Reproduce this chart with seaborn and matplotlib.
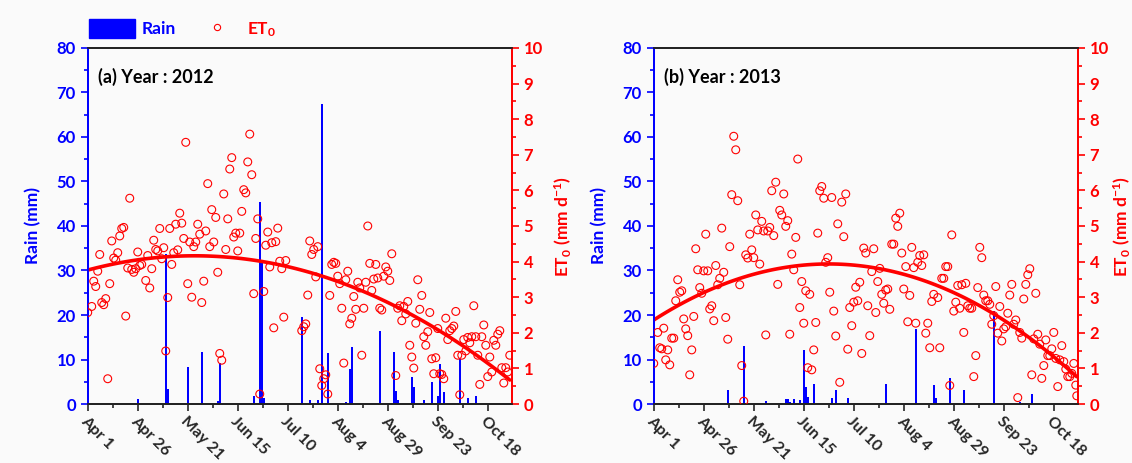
import numpy as np
import pandas as pd
import seaborn as sns
import matplotlib.pyplot as plt
from matplotlib.ticker import MultipleLocator
from matplotlib.patches import Patch
from matplotlib.lines import Line2D

sns.set_style("ticks")
plt.rcParams['font.family'] = ['Lato', 'DejaVu Sans']
plt.rcParams['font.weight'] = 'bold'
plt.rcParams['mathtext.fontset'] = 'custom'
plt.rcParams['mathtext.rm'] = 'Lato:bold'
plt.rcParams['mathtext.it'] = 'Lato:bold'
plt.rcParams['mathtext.bf'] = 'Lato:bold'

# x axis: days after Apr 1
tick_days = [0, 25, 50, 75, 100, 125, 150, 175, 200]
tick_labels = ["Apr 1", "Apr 26", "May 21", "Jun 15", "Jul 10",
               "Aug 4", "Aug 29", "Sep 23", "Oct 18"]

# ---- 2012 ----
et_day_2012 = [0, 2, 3, 4, 5, 6, 7, 8, 9, 10, 11, 12, 13, 14, 15, 16, 17, 18, 19, 20,
               21, 22, 23, 24, 25, 26, 27, 29, 30, 31, 32, 33, 34, 35, 36, 37, 38, 39, 40,
               41, 42, 43, 44, 45, 46, 47, 48, 49, 50, 51, 52, 53, 54, 55, 56, 57, 58, 59,
               60, 61, 62, 63, 64, 65, 66, 67, 68, 69, 70, 71, 72, 73, 74, 75, 76, 77, 78,
               79, 80, 81, 82, 83, 84, 85, 86, 88, 89, 90, 91, 92, 93, 94, 95, 96, 97, 98,
               99, 107, 108, 109, 110, 111, 112, 113, 114, 115, 116, 117, 118, 119, 120,
               121, 122, 123, 124, 125, 126, 127, 128, 129, 130, 131, 132, 133, 134, 135,
               136, 137, 138, 139, 140, 141, 142, 143, 144, 145, 146, 147, 148, 149, 150,
               151, 152, 154, 155, 156, 157, 158, 159, 160, 161, 162, 163, 164, 165, 166,
               167, 168, 169, 170, 171, 172, 173, 174, 175, 176, 177, 178, 179, 180, 181,
               182, 183, 184, 185, 186, 187, 188, 189, 190, 191, 192, 193, 194, 195, 196,
               197, 198, 199, 200, 201, 202, 203, 204, 205, 206, 207, 208, 209, 210, 211]
et0_2012 = [2.57, 2.74, 3.45, 3.30, 3.73, 4.20, 2.85, 2.79, 2.96, 0.71, 3.38, 4.58, 4.10,
            4.04, 4.25, 4.72, 4.93, 4.96, 2.47, 3.82, 5.78, 3.78, 3.70, 3.80, 4.27, 3.89,
            3.92, 3.47, 4.17, 3.26, 3.80, 4.60, 4.34, 4.30, 4.93, 4.08, 4.39, 1.49, 2.99,
            4.93, 3.92, 4.25, 5.05, 4.33, 5.36, 5.08, 4.65, 7.35, 3.38, 4.55, 3.00, 4.42,
            4.55, 5.05, 4.77, 2.85, 3.45, 4.86, 6.19, 4.42, 5.46, 4.55, 5.24, 3.70, 1.42,
            1.23, 5.90, 4.34, 5.20, 6.60, 6.92, 4.69, 4.80, 4.30, 4.80, 5.41, 6.02, 5.93,
            6.80, 7.58, 6.44, 3.10, 4.65, 5.20, 0.28, 3.16, 4.46, 4.83, 3.85, 4.53, 2.14,
            4.56, 4.94, 4.01, 3.80, 2.44, 4.03, 2.06, 2.17, 2.25, 3.06, 4.58, 4.20, 4.34,
            3.57, 4.42, 0.99, 0.52, 0.71, 0.82, 0.28, 3.05, 3.92, 3.98, 3.95, 3.59, 3.38,
            2.69, 1.15, 3.49, 3.73, 2.25, 2.41, 3.02, 2.66, 3.42, 3.26, 1.37, 2.69, 3.42,
            5.00, 3.95, 3.19, 3.51, 3.92, 3.54, 2.69, 2.64, 3.59, 3.85, 3.73, 3.47, 4.22,
            0.80, 2.69, 2.76, 2.34, 2.74, 2.53, 2.88, 1.65, 1.32, 1.01, 2.27, 3.49, 2.66,
            3.05, 1.89, 1.65, 2.03, 2.57, 1.27, 0.85, 1.30, 2.12, 0.85, 0.83, 0.71, 2.41,
            1.81, 2.06, 2.12, 2.19, 2.60, 1.37, 0.26, 1.37, 1.81, 1.49, 1.87, 1.72, 1.89,
            2.76, 1.89, 1.37, 0.55, 1.89, 2.22, 1.65, 0.77, 1.32, 0.90, 1.79, 1.65, 1.96,
            2.06, 1.02, 0.59, 1.02, 0.90, 1.37]
rain_day_2012 = [25, 39, 40, 50, 57, 65, 66, 83, 86, 87, 88, 107, 111, 115, 117, 120,
                 129, 131, 132, 146, 153, 154, 155, 162, 163, 168, 172, 175, 176, 178,
                 186, 190, 194]
rain_2012 = [1.1, 33.8, 3.4, 8.3, 11.7, 0.7, 9.2, 1.7, 45.5, 32.0, 1.4, 19.6, 0.9, 0.9,
             67.5, 11.5, 0.5, 7.9, 12.8, 16.5, 11.7, 3.0, 0.9, 6.0, 3.9, 0.9, 4.9, 1.7,
             8.9, 2.6, 10.2, 1.4, 1.7]

# ---- 2013 ----
et_day_2013 = [0, 2, 3, 4, 5, 6, 7, 8, 9, 10, 11, 12, 13, 14, 15, 16, 17, 18, 19, 20,
               21, 22, 23, 24, 25, 26, 27, 28, 29, 30, 31, 32, 33, 34, 35, 36, 37, 38, 39,
               40, 41, 42, 43, 44, 45, 46, 47, 48, 49, 50, 51, 52, 53, 54, 55, 56, 57, 58,
               59, 60, 61, 62, 63, 64, 65, 66, 67, 68, 69, 70, 71, 72, 73, 74, 75, 76, 77,
               78, 79, 80, 81, 82, 83, 84, 85, 86, 87, 88, 89, 90, 91, 92, 93, 94, 95, 96,
               97, 98, 99, 100, 101, 102, 103, 104, 105, 106, 107, 108, 109, 110, 111, 112,
               113, 114, 115, 116, 117, 118, 119, 120, 121, 122, 123, 124, 125, 126, 127,
               128, 129, 130, 131, 132, 133, 134, 135, 136, 137, 138, 139, 140, 142, 143,
               144, 145, 146, 147, 148, 149, 150, 151, 152, 153, 154, 155, 156, 157, 158,
               159, 160, 161, 162, 163, 164, 165, 166, 167, 168, 169, 170, 171, 172, 173,
               174, 175, 176, 177, 178, 179, 180, 181, 182, 183, 184, 185, 186, 187, 188,
               189, 190, 191, 192, 193, 194, 195, 196, 197, 198, 199, 200, 201, 202, 203,
               204, 205, 206, 207, 208, 209, 210, 211, 211.5]
et0_2013 = [1.14, 2.01, 1.58, 1.55, 2.13, 1.24, 1.52, 1.10, 1.85, 1.85, 2.90, 3.49, 3.14,
            3.18, 2.39, 2.11, 1.92, 0.82, 1.52, 2.46, 4.36, 3.77, 3.27, 3.11, 3.74, 4.77,
            3.74, 2.67, 2.76, 2.34, 3.89, 3.35, 3.53, 4.94, 3.70, 2.43, 1.82, 4.42, 5.88,
            7.52, 7.14, 5.71, 3.35, 1.08, 0.08, 4.19, 4.10, 4.77, 4.33, 4.11, 5.31, 4.89,
            3.93, 5.13, 4.86, 1.94, 4.86, 4.96, 5.99, 4.73, 6.23, 3.36, 5.44, 5.31, 5.90,
            4.99, 5.15, 1.96, 4.21, 3.77, 4.68, 6.88, 2.71, 3.44, 2.27, 3.18, 1.02, 3.08,
            0.96, 1.52, 2.29, 4.80, 5.99, 6.11, 5.78, 3.98, 4.11, 3.14, 5.80, 2.61, 1.91,
            5.06, 0.61, 5.67, 4.70, 5.90, 1.54, 2.71, 2.20, 2.86, 3.28, 2.90, 3.42, 1.42,
            4.38, 4.24, 2.76, 1.92, 3.72, 4.36, 2.57, 3.44, 3.81, 3.08, 2.83, 3.20, 3.23,
            2.66, 4.49, 4.49, 5.22, 4.99, 5.36, 4.24, 3.23, 3.86, 2.31, 3.05, 4.40, 3.83,
            2.27, 3.98, 4.17, 3.89, 4.19, 1.99, 2.27, 1.58, 2.88, 3.08, 2.99, 1.58, 3.53,
            3.53, 3.86, 3.86, 0.52, 4.75, 2.61, 2.86, 3.33, 2.69, 3.35, 2.01, 3.39, 2.76,
            2.69, 2.69, 0.77, 1.36, 3.27, 4.40, 4.11, 3.06, 2.90, 2.90, 2.80, 2.24, 2.48,
            3.30, 1.99, 2.74, 1.77, 2.11, 2.17, 2.55, 3.06, 3.36, 2.24, 2.36, 0.18, 2.01,
            1.85, 2.95, 3.36, 3.63, 3.80, 0.82, 1.83, 3.11, 1.96, 1.68, 0.72, 1.08, 1.80,
            1.36, 1.36, 1.55, 2.01, 1.28, 0.49, 1.24, 1.64, 1.19, 0.98, 0.77, 0.77, 0.86,
            1.14, 0.53, 0.23]
rain_day_2013 = [37, 45, 56, 66, 67, 68, 70, 73, 75, 76, 77, 80, 89, 91, 97, 116, 131,
                 140, 141, 148, 155, 170, 183, 189]
rain_2013 = [3.2, 13.0, 0.7, 1.1, 1.1, 0.5, 1.1, 0.9, 12.1, 3.9, 1.6, 4.6, 1.3, 3.1, 1.4,
             4.6, 16.9, 4.3, 1.4, 5.8, 3.1, 20.9, 0.5, 2.2]

panels = [
    ("(a) Year : 2012", et_day_2012, et0_2012, rain_day_2012, rain_2012),
    ("(b) Year : 2013", et_day_2013, et0_2013, rain_day_2013, rain_2013),
]

bg = '#fafafa'
blue = '#0000ff'
red = '#ff0000'
fig = plt.figure(figsize=(11.32, 4.63), dpi=100, facecolor=bg)
lefts = [0.0775, 0.5775]
et_pads = [7, 2]

for i, (title, etd, et, rd, rain) in enumerate(panels):
    ax = fig.add_axes([lefts[i], 0.1274, 0.3746, 0.769])
    ax.set_facecolor(bg)
    ax.bar(rd, rain, width=0.9, color=blue, linewidth=0)
    ax.set_ylim(0, 80)
    ax.set_xlim(0, 212)
    ax.yaxis.set_major_locator(MultipleLocator(10))
    ax.yaxis.set_minor_locator(MultipleLocator(5))
    ax.set_xticks(tick_days)
    ax.set_xticklabels(tick_labels, rotation=-45, ha='left', va='top',
                       rotation_mode='anchor', fontsize=11.5, fontweight='bold')
    ax.xaxis.set_minor_locator(MultipleLocator(12.5))
    ax.tick_params(axis='y', which='both', colors=blue, labelsize=12, width=1.2)
    ax.tick_params(axis='y', which='major', length=5)
    ax.tick_params(axis='y', which='minor', length=3)
    ax.tick_params(axis='x', which='major', length=5, width=1.2, pad=2)
    ax.tick_params(axis='x', which='minor', length=3, width=1.2)
    ax.set_ylabel("Rain (mm)", color=blue, fontsize=12.5, fontweight='bold', labelpad=11)
    ax.set_xlabel("")

    ax2 = ax.twinx()
    df = pd.DataFrame({'day': etd, 'et0': et})
    sns.scatterplot(data=df, x='day', y='et0', ax=ax2, marker='o', s=32,
                    facecolors='none', edgecolor=red, linewidth=0.8, zorder=3)
    sns.regplot(data=df, x='day', y='et0', ax=ax2, order=2, ci=None, scatter=False,
                color=red, line_kws={'lw': 2.6})
    ax2.set_ylim(0, 10)
    ax2.set_xlim(0, 212)
    ax2.yaxis.set_major_locator(MultipleLocator(1))
    ax2.yaxis.set_minor_locator(MultipleLocator(0.5))
    ax2.tick_params(axis='y', which='both', colors=red, labelsize=12, width=1.2)
    ax2.tick_params(axis='y', which='major', length=5)
    ax2.tick_params(axis='y', which='minor', length=3)
    ax2.set_ylabel("ET$_0$ (mm d$^{-1}$)", color=red, fontsize=12.5,
                   fontweight='bold', labelpad=et_pads[i])
    ax2.set_xlabel("")

    for a in (ax, ax2):
        a.spines['left'].set_color(blue)
        a.spines['right'].set_color(red)
        a.spines['top'].set_color('#222222')
        a.spines['bottom'].set_color('#222222')
        for s in a.spines.values():
            s.set_linewidth(1.3)
    for lab in ax.get_yticklabels() + ax2.get_yticklabels():
        lab.set_fontweight('bold')

    ax.text(0.025, 0.918, title, transform=ax.transAxes, fontsize=13,
            fontweight='bold', va='center', ha='left', color='black')

    if i == 0:
        handles = [Patch(facecolor=blue, edgecolor=blue),
                   Line2D([], [], marker='o', linestyle='none', markersize=4.5,
                          markerfacecolor='none', markeredgecolor=red, markeredgewidth=0.8)]
        leg = ax.legend(handles, ["Rain", "ET$_0$"], loc='lower left',
                        bbox_to_anchor=(-0.002, 1.02), ncol=2, frameon=False,
                        handlelength=2.7, handleheight=1.3, handletextpad=0.35,
                        columnspacing=1.05, borderpad=0.1, borderaxespad=0,
                        prop={'size': 12.5, 'weight': 'bold'})
        for txt, c in zip(leg.get_texts(), [blue, red]):
            txt.set_color(c)

fig.savefig("out.png", dpi=100, facecolor=bg)
